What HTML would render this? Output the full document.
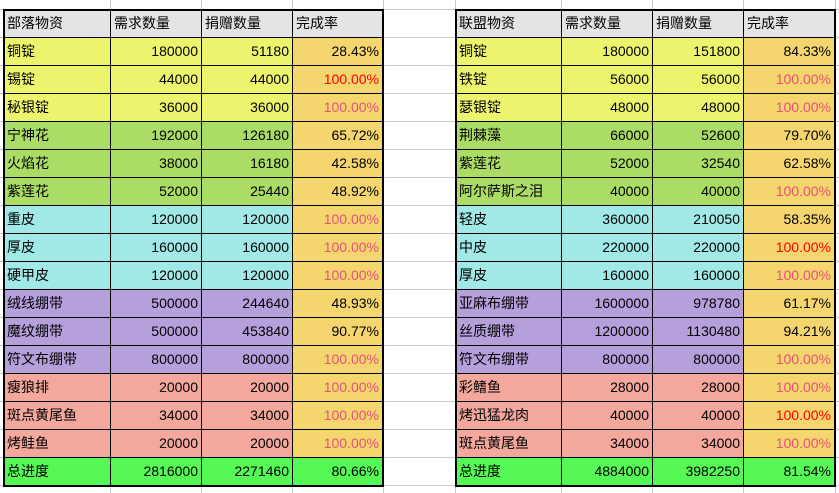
<!DOCTYPE html>
<html><head><meta charset="utf-8"><style>
body{margin:0;width:839px;height:493px;overflow:hidden;background:#fff;font-family:"Liberation Sans","Noto Sans CJK SC",sans-serif;font-size:14px;position:relative}
.g{position:absolute;background:#c8c8c8}
.c{position:absolute;box-sizing:border-box;border-right:1px solid #000;border-bottom:1px solid #000;line-height:27px;padding:0 3px;white-space:nowrap;color:#000}
.r{text-align:right}
.t{position:absolute;border:2px solid #000;box-sizing:border-box;pointer-events:none}
</style></head><body>
<div id="grid"></div>
<div id="cells"></div>
<script>
const H=28,Y0=9;
let g='';
for(let y=Y0;y<493;y+=H) g+=`<div class="g" style="left:0;top:${y}px;width:839px;height:1px"></div>`;
for(const x of [110,201,292,383,455,561,652,743,835]) g+=`<div class="g" style="left:${x}px;top:0;width:1px;height:493px"></div>`;
document.getElementById('grid').innerHTML=g;
const col={h:'#e4e4e4',y:'#ecf46e',g:'#abdd66',c:'#a0e9e6',p:'#b5a0dc',s:'#f4a89d',o:'#f5d56e',t:'#55f855'};
const L=[["部落物资","需求数量","捐赠数量","完成率","h"],
["铜锭",180000,51180,"28.43%","y"],["锡锭",44000,44000,"100.00%R","y"],["秘银锭",36000,36000,"100.00%P","y"],
["宁神花",192000,126180,"65.72%","g"],["火焰花",38000,16180,"42.58%","g"],["紫莲花",52000,25440,"48.92%","g"],
["重皮",120000,120000,"100.00%P","c"],["厚皮",160000,160000,"100.00%P","c"],["硬甲皮",120000,120000,"100.00%P","c"],
["绒线绷带",500000,244640,"48.93%","p"],["魔纹绷带",500000,453840,"90.77%","p"],["符文布绷带",800000,800000,"100.00%P","p"],
["瘦狼排",20000,20000,"100.00%P","s"],["斑点黄尾鱼",34000,34000,"100.00%P","s"],["烤鲑鱼",20000,20000,"100.00%P","s"],
["总进度",2816000,2271460,"80.66%","t"]];
const R=[["联盟物资","需求数量","捐赠数量","完成率","h"],
["铜锭",180000,151800,"84.33%","y"],["铁锭",56000,56000,"100.00%P","y"],["瑟银锭",48000,48000,"100.00%P","y"],
["荆棘藻",66000,52600,"79.70%","g"],["紫莲花",52000,32540,"62.58%","g"],["阿尔萨斯之泪",40000,40000,"100.00%P","g"],
["轻皮",360000,210050,"58.35%","c"],["中皮",220000,220000,"100.00%R","c"],["厚皮",160000,160000,"100.00%P","c"],
["亚麻布绷带",1600000,978780,"61.17%","p"],["丝质绷带",1200000,1130480,"94.21%","p"],["符文布绷带",800000,800000,"100.00%P","p"],
["彩鳍鱼",28000,28000,"100.00%P","s"],["烤迅猛龙肉",40000,40000,"100.00%R","s"],["斑点黄尾鱼",34000,34000,"100.00%P","s"],
["总进度",4884000,3982250,"81.54%","t"]];
let h='';
function tbl(d,xs){
 d.forEach((row,i)=>{
  const y=Y0+i*H, k=row[4];
  for(let j=0;j<4;j++){
   let v=String(row[j]),color='#000';
   if(v.endsWith('R')){v=v.slice(0,-1);color='#ff0000'}
   if(v.endsWith('P')){v=v.slice(0,-1);color='#e8507a'}
   let bg=col[k]; if(j==3&&k!='h'&&k!='t') bg=col.o;
   const right=(i>0&&j>0)?' r':'';
   h+=`<div class="c${right}" style="left:${xs[j]}px;top:${y}px;width:${xs[j+1]-xs[j]+1}px;height:${H+1}px;background:${bg};color:${color};border-top:1px solid #000;border-left:1px solid #000">${v}</div>`;
  }
 });
 h+=`<div class="t" style="left:${xs[0]}px;top:${Y0}px;width:${xs[4]-xs[0]+2}px;height:${H*17+2}px"></div>`;
}
tbl(L,[3,110,201,292,382]);
tbl(R,[455,561,652,743,834]);
document.getElementById('cells').innerHTML=h;
</script>
</body></html>
